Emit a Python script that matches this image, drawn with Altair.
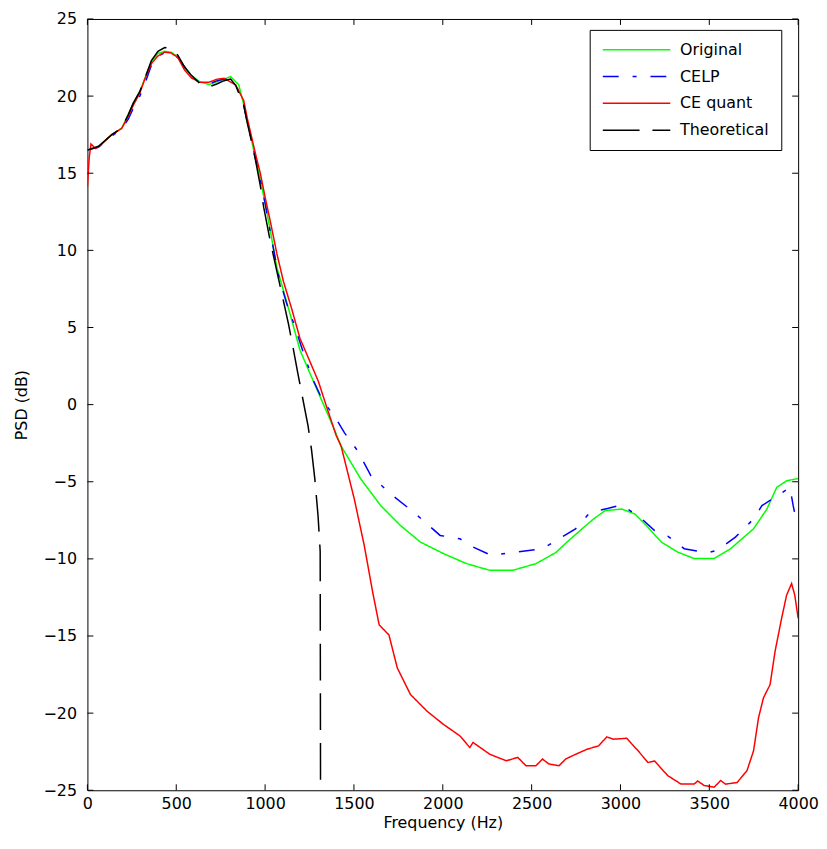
import altair as alt
import pandas as pd

# ---------------- data ----------------
series_names = ["Original", "CELP", "CE quant", "Theoretical"]
series_colors = ["#00ff00", "#0000ff", "#ff0000", "#000000"]
series_dashes = [[1, 0], [16, 14, 4, 14], [1, 0], [37, 13]]

orig_f = [0, 63, 137, 193, 230, 258, 295, 323, 360, 397, 435, 470, 509, 546, 583,
          630, 685, 731, 769, 806, 852, 880, 899, 917, 945, 973, 1001, 1029, 1066,
          1103, 1150, 1196, 1252, 1317, 1382, 1428, 1539, 1651, 1762, 1874, 2004,
          2134, 2264, 2394, 2524, 2635, 2700, 2784, 2850, 2914, 3007, 3081, 3137,
          3230, 3322, 3415, 3527, 3620, 3749, 3824, 3879, 3935, 4000]
orig_db = [16.5, 16.75, 17.5, 17.93, 18.8, 19.54, 20.3, 21.15, 22.23, 22.77, 22.9,
           22.85, 22.55, 21.9, 21.37, 20.94, 20.75, 20.94, 21.1, 21.26, 20.73, 19.44,
           18.36, 17.5, 16.0, 14.6, 13.0, 11.3, 8.9, 7.41, 5.48, 3.54, 2.04, 0.32,
           -1.4, -2.69, -4.83, -6.55, -7.84, -8.91, -9.66, -10.31, -10.74, -10.74,
           -10.31, -9.6, -8.9, -8.05, -7.4, -6.87, -6.77, -7.09, -7.73, -8.91, -9.56,
           -9.98, -9.98, -9.34, -8.05, -6.77, -5.37, -4.94, -4.79]

celp_f = [0, 63, 137, 193, 230, 258, 295, 323, 360, 397, 435, 470, 509, 546, 583,
          630, 685, 731, 769, 806, 834, 880, 899, 917, 945, 973, 1001, 1029, 1075,
          1120, 1168, 1220, 1270, 1326, 1391, 1447, 1521, 1595, 1707, 1837, 1985,
          2097, 2171, 2273, 2412, 2561, 2654, 2747, 2830, 2932, 3007, 3109, 3192,
          3266, 3359, 3489, 3545, 3647, 3749, 3796, 3898, 3954, 3972, 3991, 4000]
celp_db = [16.5, 16.7, 17.4, 17.9, 18.5, 19.2, 20.0, 20.8, 22.0, 22.6, 22.8, 22.8,
           22.5, 21.9, 21.3, 20.9, 20.8, 21.0, 21.1, 21.0, 20.8, 19.4, 18.36, 17.5,
           16.0, 14.6, 13.0, 11.2, 8.4, 6.6, 5.05, 3.2, 1.61, 0.21, -0.75, -1.83,
           -3.0, -4.6, -5.8, -6.98, -8.48, -8.7, -9.24, -9.77, -9.56, -9.34, -8.7,
           -8.05, -6.98, -6.72, -6.5, -7.3, -8.16, -8.52, -9.34, -9.6, -9.45, -8.59,
           -7.41, -6.55, -5.8, -5.37, -6.55, -7.62, -7.7]

ceq_f = [0, 10, 20, 45, 63, 137, 193, 230, 258, 295, 323, 360, 397, 435, 470, 509,
         546, 583, 630, 685, 731, 769, 834, 880, 899, 917, 945, 973, 1001, 1029, 1066,
         1103, 1150, 1196, 1252, 1300, 1345, 1400, 1428, 1502, 1558, 1605, 1642, 1697,
         1744, 1818, 1911, 2004, 2097, 2152, 2170, 2264, 2357, 2422, 2468, 2524, 2561,
         2598, 2654, 2691, 2728, 2812, 2877, 2923, 2960, 3035, 3099, 3155, 3192, 3266,
         3341, 3415, 3434, 3471, 3527, 3564, 3591, 3656, 3712, 3749, 3777, 3805, 3842,
         3870, 3907, 3935, 3963, 3981, 4000]
ceq_db = [14.1, 16.0, 16.9, 16.6, 16.7, 17.5, 17.9, 18.7, 19.4, 20.2, 21.1, 22.1,
          22.6, 22.85, 22.8, 22.5, 21.7, 21.2, 20.9, 20.9, 21.1, 21.15, 20.73, 19.7,
          18.6, 17.7, 16.3, 15.0, 13.4, 11.9, 9.8, 8.0, 6.2, 4.3, 2.8, 1.5, -0.1,
          -2.0, -2.7, -6.12, -9.13, -12.13, -14.28, -14.93, -17.07, -18.79, -19.87,
          -20.73, -21.48, -22.23, -21.9, -22.66, -23.09, -22.87, -23.41, -23.41,
          -22.98, -23.3, -23.41, -22.98, -22.77, -22.34, -22.12, -21.54, -21.69,
          -21.63, -22.44, -23.2, -23.1, -24.05, -24.6, -24.6, -24.4, -24.69, -24.8,
          -24.37, -24.6, -24.5, -23.73, -22.44, -20.3, -19.0, -18.15, -16.0, -13.85,
          -12.35, -11.6, -12.35, -13.85]

theo_f = [0, 63, 137, 193, 230, 258, 295, 323, 360, 397, 435, 470, 509, 546, 583,
          630, 685, 731, 769, 806, 834, 880, 899, 917, 945, 973, 992, 1029, 1057,
          1094, 1131, 1159, 1183, 1205, 1242, 1261, 1280, 1298, 1310, 1312]
theo_db = [16.5, 16.75, 17.5, 17.93, 18.8, 19.54, 20.3, 21.15, 22.3, 22.9, 23.15,
           23.1, 22.65, 21.9, 21.37, 20.85, 20.6, 20.8, 21.0, 21.1, 20.7, 19.4, 18.3,
           17.4, 15.9, 14.2, 12.8, 10.6, 9.13, 7.2, 5.26, 3.6, 2.1, 0.8, -1.4, -2.9,
           -4.83, -7.2, -9.5, -25.0]

x_ticks = [0, 500, 1000, 1500, 2000, 2500, 3000, 3500, 4000]
y_ticks = [-25, -20, -15, -10, -5, 0, 5, 10, 15, 20, 25]

# ---------------- tables ----------------
rows = []
for name, fs, ds in zip(series_names, [orig_f, celp_f, ceq_f, theo_f],
                        [orig_db, celp_db, ceq_db, theo_db]):
    for i, (f, d) in enumerate(zip(fs, ds)):
        rows.append({"series": name, "freq": f, "psd": d, "idx": i})
df = pd.DataFrame(rows)
xt = pd.DataFrame({"freq": x_ticks})
yt = pd.DataFrame({"psd": y_ticks})

FONT = "DejaVu Sans"
FS = 16
x_scale = alt.Scale(domain=[0, 4000], nice=False, zero=False)
y_scale = alt.Scale(domain=[-25, 25], nice=False, zero=False)

x_enc = alt.X("freq:Q", scale=x_scale, title="Frequency (Hz)",
              axis=alt.Axis(values=x_ticks, format="d", ticks=False, domain=False,
                            grid=False, labelFlush=False, labelOverlap=False,
                            labelPadding=5, titlePadding=4))
y_enc = alt.Y("psd:Q", scale=y_scale, title="PSD (dB)",
              axis=alt.Axis(values=y_ticks, format="d", ticks=False, domain=False,
                            grid=False, labelFlush=False, labelOverlap=False,
                            labelPadding=11, titlePadding=14))

legend = alt.Legend(orient="none", legendX=506, legendY=11, title=None,
                    symbolType="M-1,0H9", symbolSize=185, symbolStrokeWidth=1.5,
                    strokeColor="black", fillColor="white", padding=12,
                    labelFont=FONT, labelFontSize=FS, labelColor="black",
                    labelOffset=63, rowPadding=11, cornerRadius=0)

color = alt.Color("series:N", scale=alt.Scale(domain=series_names, range=series_colors),
                  legend=legend)
dash = alt.StrokeDash("series:N", scale=alt.Scale(domain=series_names, range=series_dashes),
                      legend=legend)

layers = []
for name in series_names:
    layers.append(
        alt.Chart(df)
        .transform_filter(alt.datum.series == name)
        .mark_line(strokeWidth=1.5, clip=True)
        .encode(x=x_enc, y=y_enc, color=color, strokeDash=dash, order="idx:Q")
    )

T = 6  # inward tick length in px
bottom_ticks = alt.Chart(xt).mark_rule(color="black", strokeWidth=1, y2Offset=-T).encode(
    x=alt.X("freq:Q", scale=x_scale), y=alt.datum(-25), y2=alt.datum(-25))
top_ticks = alt.Chart(xt).mark_rule(color="black", strokeWidth=1, y2Offset=T).encode(
    x=alt.X("freq:Q", scale=x_scale), y=alt.datum(25), y2=alt.datum(25))
left_ticks = alt.Chart(yt).mark_rule(color="black", strokeWidth=1, x2Offset=T).encode(
    y=alt.Y("psd:Q", scale=y_scale), x=alt.datum(0), x2=alt.datum(0))
right_ticks = alt.Chart(yt).mark_rule(color="black", strokeWidth=1, x2Offset=-T).encode(
    y=alt.Y("psd:Q", scale=y_scale), x=alt.datum(4000), x2=alt.datum(4000))

chart = (
    alt.layer(*layers, bottom_ticks, top_ticks, left_ticks, right_ticks)
    .properties(width=817, height=826, background="white",
                autosize=alt.AutoSizeParams(type="fit", contains="padding"),
                padding={"left": 5, "top": 0, "right": 0, "bottom": 0})
    .configure_view(stroke="black", strokeWidth=1)
    .configure_axis(labelFont=FONT, labelFontSize=FS, labelColor="black",
                    titleFont=FONT, titleFontSize=FS, titleFontWeight="normal",
                    titleColor="black")
)

chart.save("out.html", embed_options={"renderer": "svg", "actions": False})
